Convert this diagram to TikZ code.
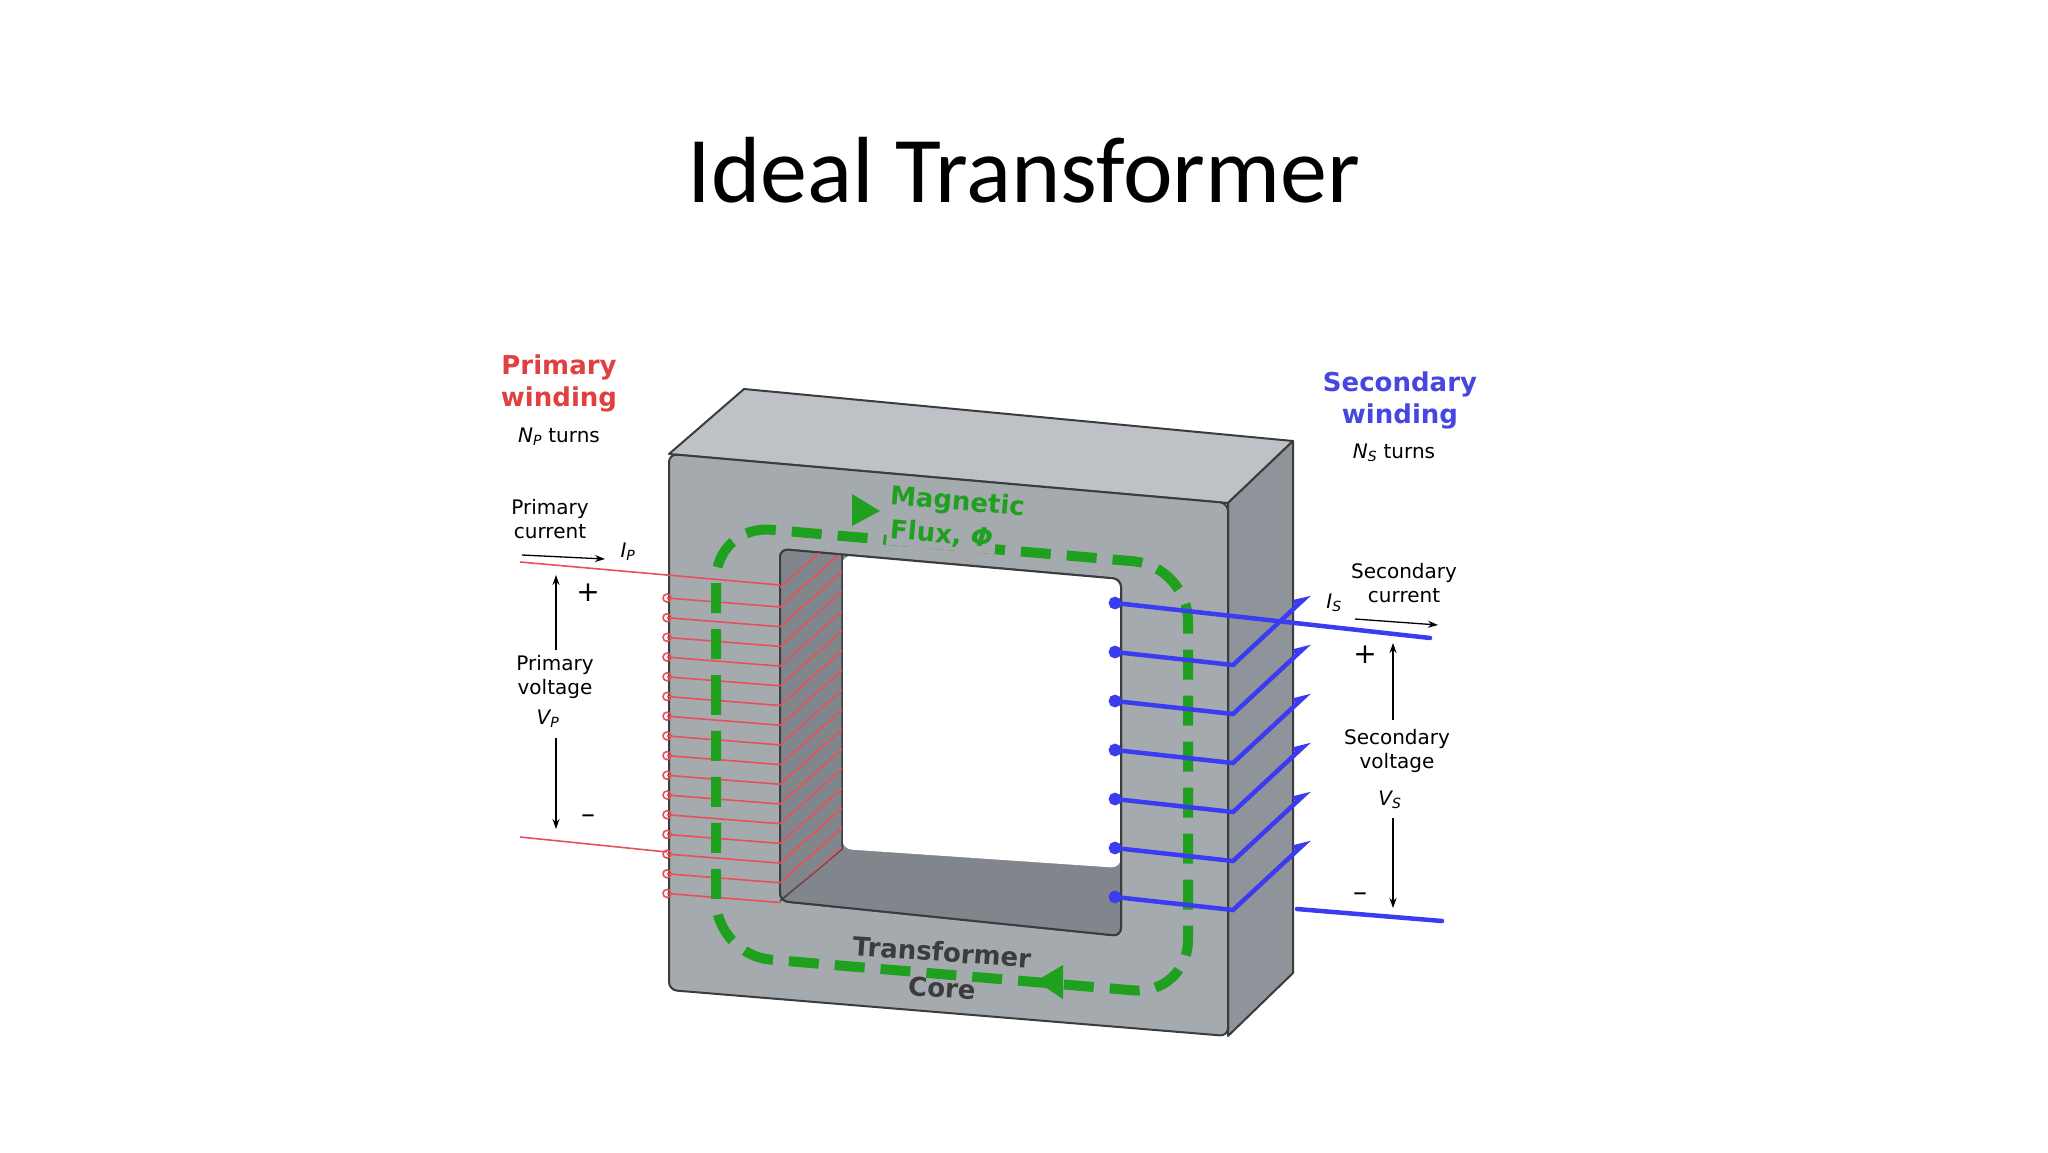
\documentclass[tikz,border=0pt]{standalone}
\usepackage{fontspec}
\setmainfont{DejaVu Sans}
\newfontfamily\titlefont{Carlito}
\usetikzlibrary{arrows.meta}
\definecolor{topc}{HTML}{BEC2C6}
\definecolor{frontc}{HTML}{A5AAAF}
\definecolor{sidec}{HTML}{8F949A}
\definecolor{innerc}{HTML}{80868C}
\definecolor{edgec}{HTML}{3A3C3E}
\definecolor{wred}{HTML}{E8505A}
\definecolor{lred}{HTML}{E04040}
\definecolor{wblue}{HTML}{3B3BF0}
\definecolor{lblue}{HTML}{4646E0}
\definecolor{fgreen}{HTML}{1FA01F}
\tikzset{
 face/.style={draw=edgec,line width=2pt,line join=round},
 lab/.style={font=\fontsize{20}{24}\selectfont,align=center,inner sep=0pt},
 big/.style={font=\fontsize{26}{32}\selectfont\bfseries,align=center,inner sep=0pt},
 thinarrow/.style={line width=1.3pt,-{Stealth[length=10pt,width=7pt]}},
 redw/.style={wred,line width=1.6pt},
 bluew/.style={wblue,line width=4.5pt,line cap=round},
}
\begin{document}
\begin{tikzpicture}[x=1pt,y=-1pt]
\useasboundingbox (0,0) rectangle (2048,1152);
\node[font=\titlefont\fontsize{94}{104}\selectfont] (title) at (1024,170) {Ideal Transformer};
% core
\fill[topc,face] (669,454) -- (744,389) -- (1293,441) -- (1228,503) -- cycle;
\fill[sidec,face] (1228,503) -- (1293,441) -- (1293,973) -- (1228,1036) -- cycle;
\fill[frontc,face,even odd rule,rounded corners=8] (669,454) -- (1228,503) -- (1228,1036) -- (669,990) -- cycle
  (780,549) -- (1121,579) -- (1121,936) -- (780,901) -- cycle;
\fill[innerc,rounded corners=8] (780,549) -- (1121,579) -- (1121,936) -- (780,901) -- cycle;
\fill[white,rounded corners=10] (842,555) -- (1121,579) -- (1121,868) -- (842,849) -- cycle;
\draw[edgec,line width=1.5pt] (842,555) -- (842,849) -- (780,901);
\draw[edgec,line width=2pt,rounded corners=8] (780,549) -- (1121,579) -- (1121,936) -- (780,901) -- cycle;
% primary winding
\draw[redw] (520,562) -- (780,585);
\draw[redw] (520,837) -- (667,852);
\foreach \i in {0,...,15}{
  \draw[redw] (667,{598+19.7*\i}) -- (780,{607+19.7*\i});
  \draw[redw] (667,{598+19.7*\i}) circle (4);
}
\begin{scope}
\clip (780,549) -- (842,555) -- (842,849) -- (780,901) -- cycle;
\foreach \i in {-1,...,15}{
  \draw[redw] (780,{607+19.7*\i}) -- ++(62,-55);
}
\end{scope}
% flux
\draw[fgreen,line width=10pt,dash pattern=on 30pt off 16pt,rounded corners=55]
  (716,760) -- (716,525) -- (1188,566) -- (1188,995) -- (716,955) -- cycle;
\fill[fgreen] (852,494) -- (852,526) -- (880,511) -- cycle;
\fill[fgreen] (1063,965) -- (1063,999) -- (1036,981) -- cycle;
\node[big,fgreen,rotate=-5,anchor=west,fill=frontc,inner sep=3pt] (flux2) at (887,530) {Flux, \textit{Φ}};
\node[big,fgreen,rotate=-5,anchor=west] (flux1) at (890,497) {Magnetic};
\node[big,edgec,rotate=-4,fill=frontc,inner sep=3pt] (core1) at (942,952) {Transformer};
\node[big,edgec,rotate=-4] (core2) at (942,988) {Core};
% secondary winding
\draw[bluew] (1115,603) -- (1430,638);
\draw[bluew] (1115,603) circle (4);
\foreach \k in {1,...,6}{
  \draw[bluew] (1115,{603+49*\k}) -- (1233,{616+49*\k}) -- ++(70,-65) -- ++(-8,2);
  \draw[bluew] (1115,{603+49*\k}) circle (4);
}
\draw[bluew] (1303,{616+49-65}) -- ++(-8,2);
\draw[bluew] (1297,909) -- (1442,921);
% primary labels
\node[big,lred] (pw) at (559,383) {Primary\\winding};
\node[lab] (np) at (559,437) {\textit{N\textsubscript{P}}\ turns};
\node[lab] (pc) at (550,519) {Primary\\current};
\coordinate (pa1) at (522,555); \coordinate (pa2) at (605,559);
\draw[thinarrow] (pa1) -- (pa2);
\node[lab] (ip) at (628,552) {\textit{I\textsubscript{P}}};
\node[lab,font=\fontsize{28}{30}\selectfont] (pplus) at (588,593) {+};
\node[lab] (pv) at (555,677) {Primary\\voltage};
\node[lab] (vp) at (548,719) {\textit{V\textsubscript{P}}};
\node[lab,font=\fontsize{28}{30}\selectfont] (pminus) at (588,819) {–};
\draw[thinarrow] (556,650) -- (556,575);
\draw[thinarrow] (556,738) -- (556,829);
% secondary labels
\node[big,lblue] (sw) at (1400,400) {Secondary\\winding};
\node[lab] (ns) at (1394,453) {\textit{N\textsubscript{S}}\ turns};
\node[lab] (sc) at (1404,583) {Secondary\\current};
\node[lab] (is) at (1334,603) {\textit{I\textsubscript{S}}};
\coordinate (sa1) at (1355,619); \coordinate (sa2) at (1438,625);
\draw[thinarrow] (sa1) -- (sa2);
\node[lab,font=\fontsize{28}{30}\selectfont] (splus) at (1365,655) {+};
\node[lab] (sv) at (1397,751) {Secondary\\voltage};
\node[lab] (vs) at (1390,800) {\textit{V\textsubscript{S}}};
\node[lab,font=\fontsize{28}{30}\selectfont] (sminus) at (1360,897) {–};
\draw[thinarrow] (1393,720) -- (1393,643);
\draw[thinarrow] (1393,818) -- (1393,908);
\end{tikzpicture}
\end{document}
